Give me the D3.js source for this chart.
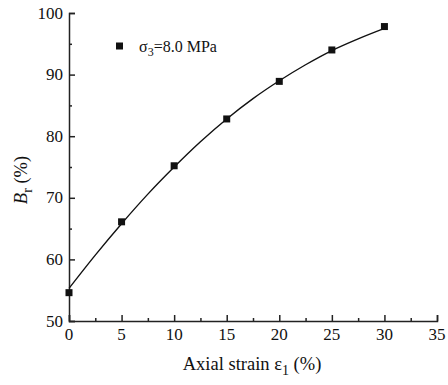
<!DOCTYPE html>
<html lang="en">
<head>
<meta charset="utf-8">
<title>Br vs axial strain</title>
<script src="https://cdn.jsdelivr.net/npm/d3@7"></script>
<style>
  body { margin: 0; background: #fff; }
  text { font-family: "Liberation Serif", "Times New Roman", serif; fill: #111; }
</style>
</head>
<body>
<script>
// measured points
var strain = [0, 5, 10, 15, 20, 25, 30];
var br = [54.6, 66.1, 75.2, 82.8, 88.9, 94.0, 97.8];
// fitted curve
var fitStrain = [0, 2.5, 5, 7.5, 10, 12.5, 15, 17.5, 20, 22.5, 25, 27.5, 30];
var fitBr = [55.3, 60.7, 65.8, 70.6, 75.0, 79.1, 82.8, 86.1, 89.0, 91.6, 93.9, 95.8, 97.5];
var xTicks = [0, 5, 10, 15, 20, 25, 30, 35];
var yTicks = [50, 60, 70, 80, 90, 100];
var legendLabel = "8.0 MPa";

var w = 448, h = 385;
var margin = {left: 69, right: 11, top: 13, bottom: 64};

var svg = d3.select("body").append("svg")
  .attr("width", w)
  .attr("height", h);

var x = d3.scaleLinear().domain([0, 35]).range([margin.left, w - margin.right]);
var y = d3.scaleLinear().domain([50, 100]).range([h - margin.bottom, margin.top]);

// x axis, ticks pointing inward
svg.append("g")
  .attr("transform", "translate(0," + (h - margin.bottom) + ")")
  .call(d3.axisTop(x).tickValues(xTicks).tickSize(6).tickFormat(""));
svg.append("g")
  .attr("transform", "translate(0," + (h - margin.bottom) + ")")
  .call(d3.axisTop(x).tickValues(d3.range(2.5, 35, 5)).tickSize(3).tickFormat(""))
  .select(".domain").remove();
svg.selectAll(".xlab").data(xTicks).enter().append("text")
  .attr("x", function(d) { return x(d); })
  .attr("y", h - margin.bottom + 19)
  .attr("text-anchor", "middle")
  .style("font-size", "17px")
  .text(function(d) { return d; });

// y axis
svg.append("g")
  .attr("transform", "translate(" + margin.left + ",0)")
  .call(d3.axisRight(y).tickValues(yTicks).tickSize(6).tickFormat(""));
svg.append("g")
  .attr("transform", "translate(" + margin.left + ",0)")
  .call(d3.axisRight(y).tickValues(d3.range(55, 100, 10)).tickSize(3).tickFormat(""))
  .select(".domain").remove();
svg.selectAll(".ylab").data(yTicks).enter().append("text")
  .attr("x", margin.left - 6)
  .attr("y", function(d) { return y(d) + 5.5; })
  .attr("text-anchor", "end")
  .style("font-size", "17px")
  .text(function(d) { return d; });

svg.selectAll(".domain, .tick line")
  .attr("stroke", "#222")
  .attr("stroke-width", 1.5);

// fitted line
var line = d3.line()
  .x(function(d, i) { return x(fitStrain[i]); })
  .y(function(d) { return y(d); })
  .curve(d3.curveCatmullRom);
svg.append("path")
  .datum(fitBr)
  .attr("d", line)
  .attr("fill", "none")
  .attr("stroke", "#111")
  .attr("stroke-width", 1.4);

// points
var s = 7;
svg.selectAll(".pt").data(br).enter().append("rect")
  .attr("x", function(d, i) { return x(strain[i]) - s / 2; })
  .attr("y", function(d) { return y(d) - s / 2; })
  .attr("width", s)
  .attr("height", s)
  .attr("fill", "#111");

// legend
svg.append("rect")
  .attr("x", 116).attr("y", 42.5)
  .attr("width", s).attr("height", s)
  .attr("fill", "#111");
var lg = svg.append("text")
  .attr("x", 139).attr("y", 52)
  .style("font-size", "16px");
lg.append("tspan").text("σ");
lg.append("tspan").attr("dy", 4).style("font-size", "12px").text("3");
lg.append("tspan").attr("dy", -4).text("=" + legendLabel);

// x label
var xl = svg.append("text")
  .attr("x", 252).attr("y", 370)
  .attr("text-anchor", "middle")
  .style("font-size", "18.5px");
xl.append("tspan").text("Axial strain ε");
xl.append("tspan").attr("dy", 5).style("font-size", "14px").text("1");
xl.append("tspan").attr("dy", -5).text(" (%)");

// y label
var yl = svg.append("text")
  .attr("transform", "translate(27,180) rotate(-90)")
  .attr("text-anchor", "middle")
  .style("font-size", "18.5px");
yl.append("tspan").style("font-style", "italic").text("B");
yl.append("tspan").attr("dy", 5).style("font-size", "14px").text("r");
yl.append("tspan").attr("dy", -5).text(" (%)");
</script>
</body>
</html>
